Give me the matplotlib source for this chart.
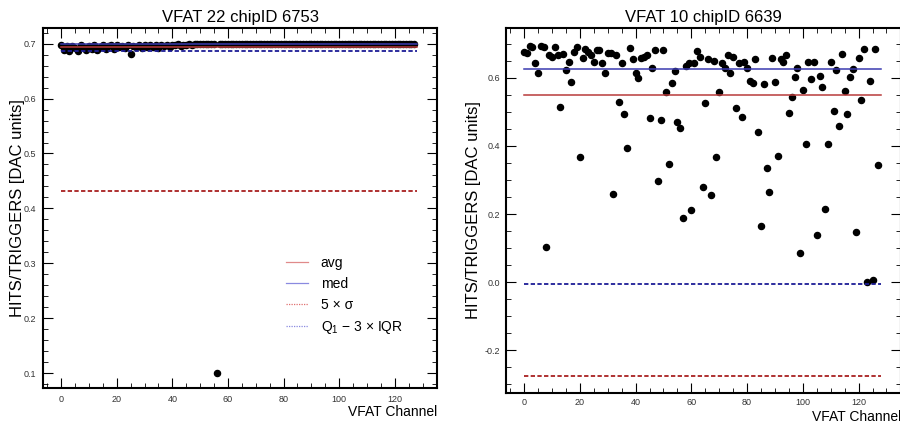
import matplotlib
matplotlib.use("Agg")
import matplotlib.pyplot as plt
from matplotlib.lines import Line2D
from matplotlib.ticker import MultipleLocator, FormatStrFormatter

plt.rcParams["font.family"] = ["Liberation Sans", "DejaVu Sans"]
plt.rcParams["mathtext.fontset"] = "custom"
plt.rcParams["mathtext.rm"] = "Liberation Sans"
plt.rcParams["axes.unicode_minus"] = False

# ---- data -------------------------------------------------------------
channels = list(range(128))

# VFAT 22, chipID 6753
vfat22_ratio = [
    0.697, 0.689, 0.695, 0.686, 0.696, 0.692, 0.687, 0.697, 0.693, 0.688,
    0.696, 0.691, 0.697, 0.689, 0.694, 0.698, 0.690, 0.695, 0.697, 0.691,
    0.698, 0.693, 0.696, 0.692, 0.697, 0.681, 0.696, 0.694, 0.698, 0.692,
    0.697, 0.694, 0.698, 0.693, 0.697, 0.692, 0.698, 0.695, 0.697, 0.694,
    0.698, 0.697, 0.699, 0.696, 0.698, 0.697, 0.699, 0.698, 0.699, 0.699,
    0.700, 0.699, 0.700, 0.699, 0.700, 0.699, 0.101, 0.700, 0.699, 0.700,
    0.699, 0.700, 0.699, 0.700, 0.699, 0.700, 0.699, 0.700, 0.699, 0.700,
    0.699, 0.700, 0.699, 0.700, 0.699, 0.700, 0.699, 0.700, 0.699, 0.700,
    0.699, 0.700, 0.699, 0.700, 0.699, 0.700, 0.699, 0.700, 0.699, 0.700,
    0.699, 0.700, 0.699, 0.700, 0.699, 0.700, 0.699, 0.700, 0.699, 0.700,
    0.699, 0.700, 0.699, 0.700, 0.699, 0.700, 0.699, 0.700, 0.699, 0.700,
    0.699, 0.700, 0.699, 0.700, 0.699, 0.700, 0.699, 0.700, 0.699, 0.700,
    0.699, 0.700, 0.699, 0.700, 0.699, 0.700, 0.699, 0.700,
]
vfat22_avg = 0.6935
vfat22_med = 0.6995
vfat22_sigma_cut = 0.432
vfat22_iqr_cut = 0.6870

# VFAT 10, chipID 6639
vfat10_ratio = [
    0.677, 0.673, 0.693, 0.690, 0.644, 0.613, 0.693, 0.690, 0.104, 0.668,
    0.661, 0.689, 0.668, 0.515, 0.670, 0.623, 0.645, 0.588, 0.676, 0.689,
    0.368, 0.659, 0.683, 0.676, 0.666, 0.645, 0.682, 0.680, 0.644, 0.615,
    0.673, 0.672, 0.259, 0.667, 0.530, 0.642, 0.493, 0.393, 0.687, 0.654,
    0.613, 0.600, 0.657, 0.662, 0.666, 0.481, 0.630, 0.681, 0.298, 0.476,
    0.681, 0.557, 0.346, 0.585, 0.621, 0.470, 0.453, 0.189, 0.635, 0.644,
    0.212, 0.642, 0.678, 0.662, 0.280, 0.525, 0.654, 0.256, 0.649, 0.368,
    0.559, 0.644, 0.629, 0.667, 0.613, 0.661, 0.510, 0.644, 0.486, 0.647,
    0.630, 0.590, 0.585, 0.655, 0.442, 0.165, 0.581, 0.334, 0.265, 0.657,
    0.588, 0.370, 0.654, 0.645, 0.667, 0.497, 0.544, 0.603, 0.628, 0.087,
    0.564, 0.405, 0.645, 0.597, 0.645, 0.138, 0.606, 0.572, 0.214, 0.406,
    0.647, 0.503, 0.623, 0.458, 0.670, 0.562, 0.493, 0.602, 0.627, 0.148,
    0.659, 0.535, 0.683, 0.000, 0.591, 0.008, 0.683, 0.344,
]
vfat10_avg = 0.550
vfat10_med = 0.6255
vfat10_sigma_cut = -0.275
vfat10_iqr_cut = -0.005

legend_labels = ["avg", "med", r"5 × σ", r"Q$_{\mathregular{1}}$ − 3 × IQR"]

# ---- styling ----------------------------------------------------------
RED = "#b83a3a"
BLUE = "#3a3ab0"
RED_D = "#a82020"
BLUE_D = "#1c1c96"
TICK_COL = "#333333"

fig = plt.figure(figsize=(9.0, 4.21), dpi=100)
ax_l = fig.add_axes([0.0478, 0.0784, 0.4378, 0.8551])
ax_r = fig.add_axes([0.5622, 0.0665, 0.4389, 0.8670])


def draw_panel(ax, ratio, avg, med, sig_cut, iqr_cut, title, ylim,
               ymajor, yminor, ylab_x, xlab_y, ytick_pad, xtick_pad):
    ax.plot(channels, ratio, "o", color="black", ms=4.4, zorder=3)
    xs = [channels[0], channels[-1] + 1]
    ax.plot(xs, [avg, avg], color=RED, lw=1.1, zorder=4)
    ax.plot(xs, [med, med], color=BLUE, lw=1.1, zorder=4)
    ax.plot(xs, [sig_cut, sig_cut], color=RED_D, lw=1.3,
            dashes=(2.4, 1.3), zorder=4)
    ax.plot(xs, [iqr_cut, iqr_cut], color=BLUE_D, lw=1.3,
            dashes=(2.4, 1.3), zorder=4)

    ax.set_xlim(-6.5, 135.2)
    ax.set_ylim(*ylim)
    ax.xaxis.set_major_locator(MultipleLocator(20))
    ax.xaxis.set_minor_locator(MultipleLocator(5))
    ax.yaxis.set_major_locator(MultipleLocator(ymajor))
    ax.yaxis.set_minor_locator(MultipleLocator(yminor))
    ax.yaxis.set_major_formatter(FormatStrFormatter("%.1f"))
    ax.xaxis.set_major_formatter(FormatStrFormatter("%d"))

    ax.tick_params(which="both", direction="in", top=True, right=True,
                   colors="black", labelcolor=TICK_COL, labelsize=6.5)
    ax.tick_params(which="major", length=7, width=0.8)
    ax.tick_params(which="minor", length=3.5, width=0.6)
    ax.tick_params(axis="y", which="both", pad=ytick_pad)
    ax.tick_params(axis="x", which="both", pad=xtick_pad)
    for sp in ax.spines.values():
        sp.set_linewidth(1.5)

    ax.set_title(title, fontsize=12, pad=4)
    ax.set_ylabel("HITS/TRIGGERS [DAC units]", fontsize=12)
    ax.yaxis.set_label_coords(ylab_x, 0.5)
    ax.set_xlabel("VFAT Channel", fontsize=10, ha="right")
    ax.xaxis.set_label_coords(1.0, xlab_y)


draw_panel(ax_l, vfat22_ratio, vfat22_avg, vfat22_med, vfat22_sigma_cut,
           vfat22_iqr_cut, "VFAT 22 chipID 6753", (0.073, 0.7285),
           0.1, 0.02, -0.047, -0.046, 4.8, 4.8)
draw_panel(ax_r, vfat10_ratio, vfat10_avg, vfat10_med, vfat10_sigma_cut,
           vfat10_iqr_cut, "VFAT 10 chipID 6639", (-0.325, 0.746),
           0.2, 0.05, -0.062, -0.046, 4.0, 3.6)

handles = [
    Line2D([], [], color="#e08a8a", lw=0.9),
    Line2D([], [], color="#8a8ae0", lw=0.9),
    Line2D([], [], color="#e07070", lw=0.9, ls=(0, (1, 1))),
    Line2D([], [], color="#8a8ae0", lw=0.9, ls=(0, (1, 1))),
]
ax_l.legend(handles, legend_labels, loc="upper left",
            bbox_to_anchor=(0.617, 0.366), frameon=False, fontsize=10,
            handlelength=1.55, handletextpad=0.95, labelspacing=0.5,
            borderpad=0, borderaxespad=0)

fig.savefig("out.png", dpi=100)
